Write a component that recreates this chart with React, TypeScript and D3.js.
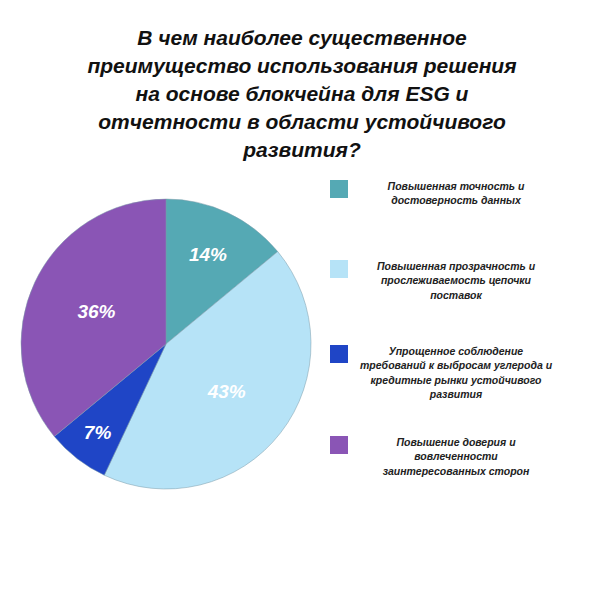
import React from "react";
import * as d3 from "d3";

const titleLines = [
  "В чем наиболее существенное",
  "преимущество использования решения",
  "на основе блокчейна для ESG и",
  "отчетности в области устойчивого",
  "развития?",
];
const categories = [
  ["Повышенная точность и", "достоверность данных"],
  ["Повышенная прозрачность и", "прослеживаемость цепочки", "поставок"],
  ["Упрощенное соблюдение", "требований к выбросам углерода и", "кредитные рынки устойчивого", "развития"],
  ["Повышение доверия и", "вовлеченности", "заинтересованных сторон"],
];
const values = [14, 43, 7, 36];
const colors = ["#55A9B4", "#B6E3F7", "#1F45C6", "#8A55B5"];

export default function App() {
  const cx = 166, cy = 344, r = 145;
  const legendY = [180, 260, 345, 436];
  const labelRadiusFrac = [0.68, 0.53, 0.77, 0.53];
  const pie = d3.pie<number>().sort(null).value((d) => d)(values);
  const arc = d3.arc<d3.PieArcDatum<number>>().innerRadius(0).outerRadius(r);
  const font = "'Liberation Sans', Arial, sans-serif";
  return (
    <svg width={600} height={600} style={{ position: "absolute", left: 0, top: 0, background: "#fff" }}>
      <g fontFamily={font} fontWeight="bold" fontStyle="italic" fontSize={21} textAnchor="middle" fill="#111">
        {titleLines.map((t, i) => (
          <text key={i} x={302} y={45 + i * 28}>{t}</text>
        ))}
      </g>
      <g transform={`translate(${cx},${cy})`}>
        {pie.map((p, i) => (
          <path key={i} d={arc(p) || ""} fill={colors[i]} stroke="#7a9aa8" strokeWidth={0.5} />
        ))}
        {pie.map((p, i) => {
          const lr = r * labelRadiusFrac[i];
          const [x, y] = d3.arc<d3.PieArcDatum<number>>().innerRadius(lr).outerRadius(lr).centroid(p);
          return (
            <text key={i} x={x} y={y} dy="0.35em" textAnchor="middle" fill="#fff"
              fontFamily={font} fontWeight="bold" fontStyle="italic" fontSize={19}>
              {values[i]}%
            </text>
          );
        })}
      </g>
      {categories.map((lines, i) => (
        <g key={i}>
          <rect x={330} y={legendY[i]} width={18} height={18} fill={colors[i]} />
          {lines.map((l, j) => (
            <text key={j} x={456} y={legendY[i] + 10 + j * 14.3} textAnchor="middle"
              fontFamily={font} fontWeight="bold" fontStyle="italic" fontSize={10.5} fill="#222">
              {l}
            </text>
          ))}
        </g>
      ))}
    </svg>
  );
}
